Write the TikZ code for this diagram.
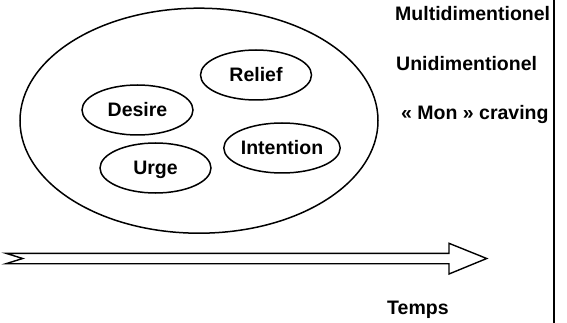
\documentclass[tikz,border=0pt]{standalone}
\usepackage{fontspec}
\setmainfont{Liberation Sans}
\usetikzlibrary{shapes.geometric}

\begin{document}
\begin{tikzpicture}[x=1pt,y=-1pt,
    lbl/.style={font=\fontsize{19.5}{22}\selectfont\bfseries,inner sep=0pt},
    bubble/.style={ellipse,draw,line width=1.5pt,minimum width=111pt,minimum height=50pt,
        lbl,text height=14pt,text depth=0pt}]
    \useasboundingbox (0,0) rectangle (567,323);

    % the big set
    \node[ellipse,draw,line width=1.5pt,minimum width=358pt,minimum height=225pt] (cloud) at (199,120.7) {};

    \node[bubble] (relief) at (256,75) {Relief};
    \node[bubble] (desire) at (137.5,110) {Desire};
    \node[bubble] (intention) at (282,148) {Intention};
    \node[bubble] (urge) at (155.5,168) {Urge};

    \node[lbl,anchor=base west] (multi) at (395,20.7) {Multidimentionel};
    \node[lbl,anchor=base west] (uni) at (396,70.7) {Unidimentionel};
    \node[lbl,anchor=base west] (mon) at (401,120) {« Mon » craving};
    \node[lbl,anchor=base west] (temps) at (387,314) {Temps};

    % separator
    \coordinate (top) at (554,0);
    \coordinate (bottom) at (554,323);
    \draw[line width=2pt] (top) -- (bottom);

    % time arrow
    \coordinate (tip) at (486.7,258.5);
    \draw[line width=1.4pt] (6,253.3) -- (449,253.3) -- (449,243.3) -- (tip)
        -- (449,274) -- (449,263.7) -- (6,263.7) -- (22.7,258.5) -- cycle;
\end{tikzpicture}
\end{document}
